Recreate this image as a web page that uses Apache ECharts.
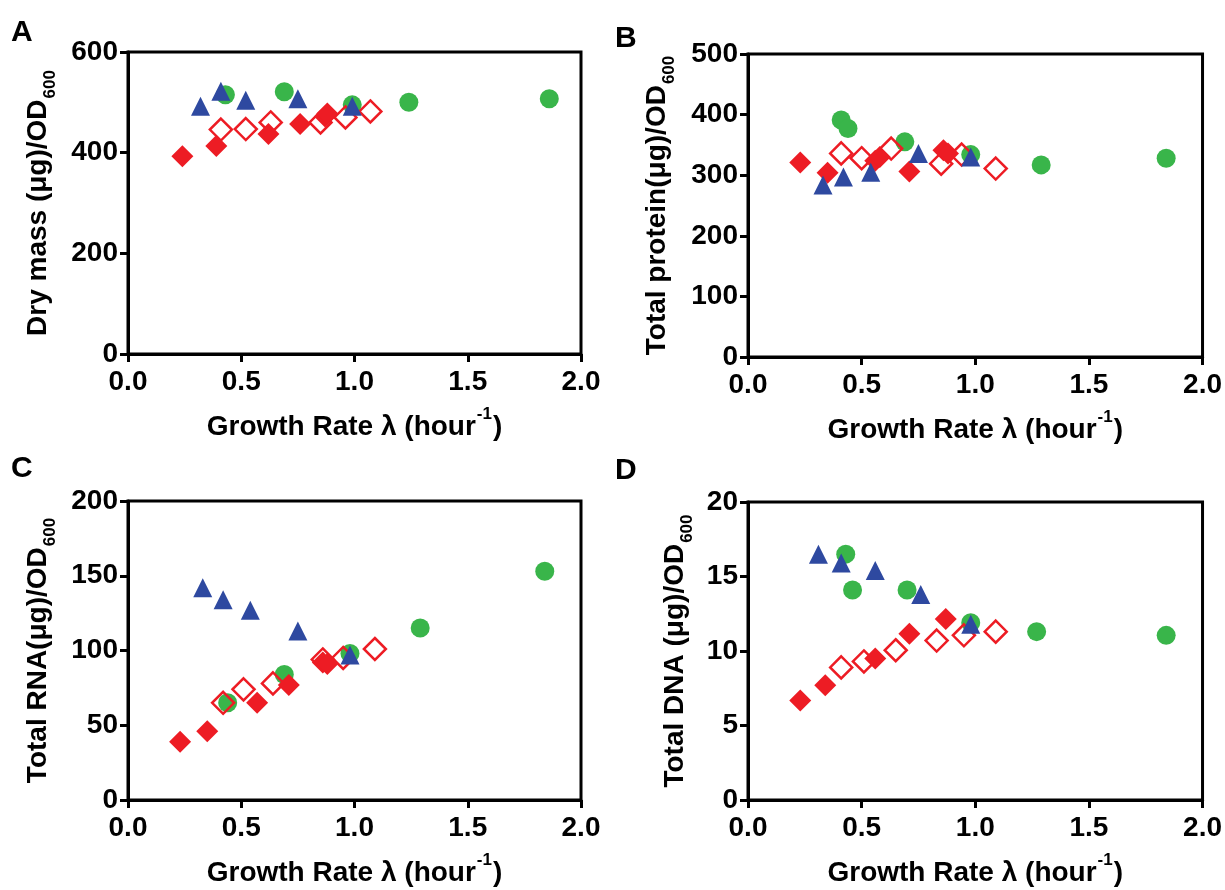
<!DOCTYPE html>
<html>
<head>
<meta charset="utf-8">
<script src="https://cdn.jsdelivr.net/npm/echarts@6/dist/echarts.min.js"></script>
<style>
  html, body { margin: 0; padding: 0; background: #fff; }
  #chart { width: 1225px; height: 890px; }
</style>
</head>
<body>
<div id="chart"></div>
<script>
/* Growth-rate panels A–D: [growth rate, value] pairs per marker type */

// A — dry mass
const dryMassCircle = [[0.43, 515], [0.69, 521], [0.99, 495], [1.24, 500], [1.86, 507]];
const dryMassOpen = [[0.41, 446], [0.52, 447], [0.63, 460], [0.85, 460], [0.96, 470], [1.07, 482]];
const dryMassFilled = [[0.24, 393], [0.39, 413], [0.62, 437], [0.76, 457], [0.87, 472], [0.88, 478]];
const dryMassTri = [[0.32, 492], [0.41, 522], [0.52, 504], [0.75, 507], [0.99, 492]];

// B — total protein
const proteinCircle = [[0.41, 391], [0.44, 377], [0.69, 355], [0.98, 334], [1.29, 317], [1.84, 328]];
const proteinOpen = [[0.41, 336], [0.50, 328], [0.63, 344], [0.85, 319], [0.94, 334], [1.09, 311]];
const proteinFilled = [[0.23, 321], [0.35, 304], [0.56, 324], [0.58, 330], [0.71, 306], [0.86, 341], [0.88, 336]];
const proteinTri = [[0.33, 284], [0.42, 297], [0.54, 305], [0.75, 336], [0.98, 330]];

// C — total RNA
const rnaCircle = [[0.44, 65], [0.69, 84], [0.98, 98], [1.29, 115], [1.84, 153]];
const rnaOpen = [[0.42, 65], [0.51, 74], [0.64, 78], [0.86, 94], [0.95, 95], [1.09, 101]];
const rnaFilled = [[0.23, 39], [0.35, 46], [0.57, 65], [0.71, 77], [0.86, 92], [0.88, 91]];
const rnaTri = [[0.33, 142], [0.42, 134], [0.54, 127], [0.75, 113], [0.98, 97]];

// D — total DNA
const dnaCircle = [[0.43, 16.5], [0.46, 14.1], [0.70, 14.1], [0.98, 11.9], [1.27, 11.3], [1.84, 11.05]];
const dnaOpen = [[0.41, 8.9], [0.51, 9.3], [0.65, 10.05], [0.83, 10.7], [0.95, 11.05], [1.09, 11.3]];
const dnaFilled = [[0.23, 6.67], [0.34, 7.7], [0.56, 9.5], [0.71, 11.15], [0.87, 12.15]];
const dnaTri = [[0.31, 16.5], [0.41, 15.9], [0.56, 15.4], [0.76, 13.8], [0.98, 11.8]];

const panelLetters = ["A", "B", "C", "D"];
const yMaxes = [600, 500, 200, 20];
const yIntervals = [200, 100, 50, 5];
const yNames = [
  "Dry mass (μg)/OD{sub|600}",
  "Total protein(μg)/OD{sub|600}",
  "Total RNA(μg)/OD{sub|600}",
  "Total DNA (μg)/OD{sub|600}",
];
const xName = "Growth Rate λ (hour{sup|-1})";

const COLORS = { red: "#ED1C24", green: "#39B54A", blue: "#2E49A0" };
const FONT = "Liberation Sans";

// plot boxes in px
const GRIDS = [
  { left: 128, top: 52, width: 453, height: 302 },
  { left: 748, top: 54, width: 457, height: 303 },
  { left: 128, top: 501, width: 453, height: 302 },
  { left: 748, top: 502, width: 457, height: 301 },
];
const Y_NAME_GAP = [74, 75, 74, 57];
const LETTER_POS = [[11, 18], [615, 24], [11, 454], [615, 456]];

const panelData = [
  [dryMassCircle, dryMassOpen, dryMassFilled, dryMassTri],
  [proteinCircle, proteinOpen, proteinFilled, proteinTri],
  [rnaCircle, rnaOpen, rnaFilled, rnaTri],
  [dnaCircle, dnaOpen, dnaFilled, dnaTri],
];

const nameRich = {
  sub: { fontSize: 17, fontWeight: "bold", fontFamily: FONT, color: "#000", verticalAlign: "bottom", lineHeight: 16, padding: [0, 0, -5, 1] },
  sup: { fontSize: 17, fontWeight: "bold", fontFamily: FONT, color: "#000", verticalAlign: "top", lineHeight: 16, padding: [-5, 1, 0, 1] },
};

function axisCommon() {
  return {
    axisLine: { show: true, onZero: false, lineStyle: { color: "#000", width: 3 } },
    axisTick: { show: true, length: 8, inside: false, lineStyle: { color: "#000", width: 3 } },
    splitLine: { show: false },
    nameLocation: "middle",
    nameTextStyle: { fontSize: 28, fontWeight: "bold", fontFamily: FONT, color: "#000", lineHeight: 32, rich: nameRich },
  };
}

const grid = GRIDS.map(g => Object.assign({ show: true, borderColor: "#000", borderWidth: 3, containLabel: false }, g));

const xAxis = GRIDS.map((g, i) => Object.assign(axisCommon(), {
  type: "value", gridIndex: i, min: 0, max: 2, interval: 0.5,
  name: xName, nameGap: 57,
  axisLabel: { formatter: v => v.toFixed(1), fontSize: 28, fontWeight: "bold", fontFamily: FONT, color: "#000", margin: 14 },
}));

const yAxis = GRIDS.map((g, i) => Object.assign(axisCommon(), {
  type: "value", gridIndex: i, min: 0, max: yMaxes[i], interval: yIntervals[i],
  name: yNames[i], nameGap: Y_NAME_GAP[i], nameRotate: 90,
  axisLabel: { fontSize: 28, fontWeight: "bold", fontFamily: FONT, color: "#000", margin: 10 },
}));

const series = [];
panelData.forEach(([circle, open, filled, tri], i) => {
  series.push(
    { type: "scatter", xAxisIndex: i, yAxisIndex: i, symbol: "circle", symbolSize: 19, data: circle,
      itemStyle: { color: COLORS.green, opacity: 1 } },
    { type: "scatter", xAxisIndex: i, yAxisIndex: i, symbol: "diamond", symbolSize: 22, data: open,
      itemStyle: { color: "rgba(255,255,255,0)", borderColor: COLORS.red, borderWidth: 2.5, opacity: 1 } },
    { type: "scatter", xAxisIndex: i, yAxisIndex: i, symbol: "diamond", symbolSize: 22, data: filled,
      itemStyle: { color: COLORS.red, opacity: 1 } },
    { type: "scatter", xAxisIndex: i, yAxisIndex: i, symbol: "triangle", symbolSize: 19, data: tri,
      itemStyle: { color: COLORS.blue, opacity: 1 } },
  );
});

const graphic = panelLetters.map((t, i) => ({
  type: "text", left: LETTER_POS[i][0], top: LETTER_POS[i][1],
  style: { text: t, font: `bold 30px "${FONT}"`, fill: "#000" },
}));

const chart = echarts.init(document.getElementById("chart"), null, { renderer: "canvas" });
chart.setOption({
  animation: false,
  backgroundColor: "#fff",
  grid, xAxis, yAxis, series, graphic,
});
</script>
</body>
</html>
